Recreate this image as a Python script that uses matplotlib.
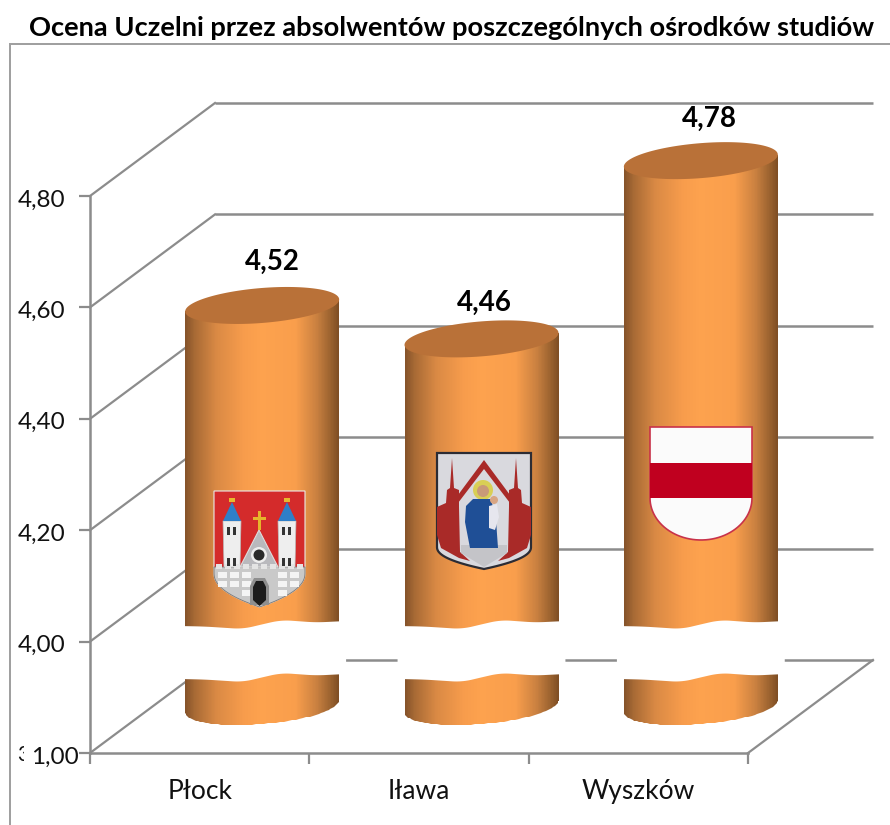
#!/usr/bin/env python3
import numpy as np
import matplotlib
matplotlib.use('Agg')
import matplotlib.pyplot as plt
from matplotlib.colors import LinearSegmentedColormap
from matplotlib.patches import Polygon, Circle, Rectangle
from matplotlib.transforms import Affine2D, Bbox, IdentityTransform

plt.rcParams['font.family'] = ['Lato', 'DejaVu Sans']

# data
cities = ['Płock', 'Iława', 'Wyszków']
scores = [4.52, 4.46, 4.78]
score_labels = ['4,52', '4,46', '4,78']
y_ticks = [1.00, 4.00, 4.20, 4.40, 4.60, 4.80]
y_tick_labels = ['1,00', '4,00', '4,20', '4,40', '4,60', '4,80']

W, H = 890, 825
GRID = '#8c8c8c'
DEPTH = (125, 93)       # px, back wall offset
HALF = (77, 17.5, 6)    # cylinder ellipse: half width, half height, tilt
LABEL_SHIFT = [(10, 44), (3, 36), (9, 42)]  # px, value label from cylinder top


# broken axis: the 1 -> 4 stretch takes the room of one 0.2 step
def forward(v):
    v = np.asarray(v, dtype=float)
    return np.where(v >= 4, v - 4, (v - 1) / 3 * 0.2 - 0.2)


def inverse(u):
    u = np.asarray(u, dtype=float)
    return np.where(u >= 0, u + 4, (u + 0.2) / 0.2 * 3 + 1)


def px(x, y):
    # picture pixel (y down) -> display
    return x, H - y


fig = plt.figure(figsize=(W / 100, H / 100), dpi=100)
ax = fig.add_axes([90 / W, (H - 753) / H, 658 / W, (753 - 196) / H])
ax.set_facecolor('none')
ax.set_xlim(-0.5, 2.5)
ax.set_yscale('function', functions=(forward, inverse))
ax.set_ylim(1.0, 4.8)
ax.set_yticks(y_ticks, y_tick_labels)
ax.set_xticks([-0.5, 0.5, 1.5, 2.5], [])
ax.minorticks_off()
ax.tick_params(axis='both', length=8, width=1.6, color=GRID)
ax.tick_params(axis='y', labelsize=17.5, pad=10, labelcolor='#111111')
for s in ['top', 'right']:
    ax.spines[s].set_visible(False)
for s in ['left', 'bottom']:
    ax.spines[s].set_color(GRID)
    ax.spines[s].set_linewidth(1.8)
for n, lab in enumerate(ax.get_yticklabels()):
    # the 1,00 label sits closer to the axis than the others
    lab.set_transform(lab.get_transform() + Affine2D().translate(14 if n == 0 else 0, -2))
for i, c in enumerate(cities):
    ax.text(i, -0.07, c, transform=ax.get_xaxis_transform(), ha='center', va='center', fontsize=19, color='#111111')

back = ax.transData + Affine2D().translate(*DEPTH)
mid = ax.transData + Affine2D().translate(DEPTH[0] / 2, DEPTH[1] / 2)

# walls and floor
for t in y_ticks:
    ax.plot([-0.5, 2.5], [t, t], transform=back, color=GRID, lw=1.8, clip_on=False, solid_capstyle='butt', zorder=1)
    x0, y0 = ax.transData.transform((-0.5, t))
    ax.plot([x0, x0 + DEPTH[0]], [y0, y0 + DEPTH[1]], transform=IdentityTransform(), color=GRID, lw=1.6, clip_on=False, zorder=1)
x0, y0 = ax.transData.transform((2.5, 1.0))
ax.plot([x0, x0 + DEPTH[0]], [y0, y0 + DEPTH[1]], transform=IdentityTransform(), color=GRID, lw=1.6, clip_on=False, zorder=1)

# cylinders
shade = LinearSegmentedColormap.from_list('cyl', [
    (0.00, '#86532a'), (0.06, '#a86a35'), (0.20, '#d98944'), (0.38, '#f79c4c'),
    (0.50, '#fda24e'), (0.72, '#f99e4c'), (0.86, '#c98040'), (0.95, '#9a622f'), (1.00, '#7f4e24')])
a, b, s = HALF
tt = np.linspace(0, 2 * np.pi, 121)


def ellipse(cx, cy, t):
    return np.column_stack([cx + a * np.cos(t), cy + b * np.sin(t) + s * np.cos(t)])


for i, v in enumerate(scores):
    cx, cy_top = mid.transform((i, v))
    _, cy_bot = mid.transform((i, 1.0))
    lower = ellipse(cx, cy_bot, np.linspace(np.pi, 2 * np.pi, 60))
    body = np.vstack([lower, [[cx + a, cy_top + s], [cx - a, cy_top - s]]])
    clip = Polygon(body, transform=IdentityTransform(), fc='none', ec='none')
    ax.add_patch(clip)
    clip.set_clip_on(False)
    xs = np.linspace(cx - a, cx + a, 155)
    ys = [cy_bot - 30, cy_top + 30]
    mesh = ax.pcolormesh(xs, ys, np.linspace(0, 1, 154)[None, :], cmap=shade, transform=IdentityTransform(), zorder=3, rasterized=True)
    mesh.set_clip_path(clip)
    mesh.set_clip_box(None)
    ax.add_patch(Polygon(ellipse(cx, cy_top, tt), transform=IdentityTransform(), fc='#b97138', ec='none', zorder=4, clip_on=False))
    dx, dy = LABEL_SHIFT[i]
    ax.text(cx + dx, cy_top + dy, score_labels[i], transform=IdentityTransform(), ha='center', va='center',
            fontsize=20, fontweight='bold', color='black', zorder=6)

    # white wavy break over the cylinder
    knots = np.array([-1.09, -0.75, -0.25, 0.02, 0.25, 0.7, 1.09])
    wave = np.array([1.5, 1.0, -1.5, 3.5, 7.5, 5.0, 6.5])
    u = np.linspace(-1.09, 1.09, 90)
    w = np.interp(u, knots, wave)
    w = np.convolve(np.pad(w, 5, mode='edge'), np.ones(11) / 11, mode='valid')
    top_edge = np.column_stack([cx + u * a, cy_bot + 79 + w])
    bot_edge = np.column_stack([cx + u * a, cy_bot + 26 + w])
    ax.add_patch(Polygon(np.vstack([top_edge, bot_edge[::-1]]), transform=IdentityTransform(), fc='white', ec='none', zorder=5, clip_on=False))


def art(points, zorder=7, **kw):
    pts = [px(x, y) for x, y in points]
    ax.add_patch(Polygon(pts, transform=IdentityTransform(), clip_on=False, zorder=zorder, **kw))


def dot(x, y, r, color, zorder=8):
    ax.add_patch(Circle(px(x, y), r, transform=IdentityTransform(), fc=color, ec='none', clip_on=False, zorder=zorder))


def shield(x0, x1, top, side, tip, n=24):
    xc = (x0 + x1) / 2
    t = np.linspace(0, 1, n)
    left = [(x0 + (xc - x0) * q ** 2.2, side + (tip - side) * q ** 1.0) for q in t]
    right = [(x1 - (x1 - xc) * q ** 2.2, side + (tip - side) * q ** 1.0) for q in t[::-1]]
    return [(x0, top)] + left + right + [(x1, top)]


# herb Płocka
sh = shield(214, 305, 491, 573, 607)
art(sh, fc='#d42b2b', ec='#e8e8e8', lw=0.8)
wall = [p for p in sh if p[1] >= 570]
art([(214, 567), (305, 567)] + sorted([p for p in wall if p[0] > 259.5], key=lambda p: p[1]) +
    sorted([p for p in wall if p[0] <= 259.5], key=lambda p: -p[1]), zorder=8, fc='#c9c9c9', ec='#777777', lw=0.6)
for tx in (232, 287):
    art([(tx - 9, 521), (tx + 9, 521), (tx + 8, 567), (tx - 8, 567)], zorder=9, fc='#eeeeee', ec='#bbbbbb', lw=0.5)
    art([(tx, 502), (tx - 9, 521), (tx + 9, 521)], zorder=10, fc='#2f7fc8', ec='none')
    art([(tx - 3, 498), (tx + 3, 498), (tx + 3, 502), (tx - 3, 502)], zorder=10, fc='#e8b82e', ec='none')
    for wy in (527, 558):
        for wx in (-5, 1):
            art([(tx + wx, wy), (tx + wx + 3, wy), (tx + wx + 3, wy + 8), (tx + wx, wy + 8)], zorder=10, fc='#333333', ec='none')
art([(259, 530), (240, 567), (278, 567)], zorder=9, fc='#b9b9bd', ec='#dddddd', lw=0.8)
dot(259, 555, 8, '#eeeeee', 10)
dot(259, 555, 5.5, '#2a2a2a', 11)
art([(257.5, 511), (260.5, 511), (260.5, 530), (257.5, 530)], zorder=10, fc='#e6b52c', ec='none')
art([(253, 517), (266, 517), (266, 520), (253, 520)], zorder=10, fc='#e6b52c', ec='none')
for bx in np.arange(216, 303, 9):
    art([(bx, 564), (bx + 6, 564), (bx + 6, 569), (bx, 569)], zorder=9, fc='#e4e4e4', ec='none')
for by in (572, 581, 590):
    for bx in np.arange(218, 302, 12):
        if 249 < bx < 268 or by > 585 and not 232 < bx < 288:
            continue
        art([(bx, by), (bx + 9, by), (bx + 9, by + 6), (bx, by + 6)], zorder=9, fc='#f4f4f4', ec='none')
art([(250, 605), (250, 586), (254, 578), (265, 578), (269, 586), (269, 605)], zorder=9, fc='#8f8f8f', ec='none')
art([(253, 600), (253, 587), (256, 581), (263, 581), (266, 587), (266, 600), (259.5, 606)], zorder=10, fc='#1c1c1c', ec='none')

# herb Iławy
sh = shield(437, 531, 453, 547, 569)
art(sh, fc='#d9d9de', ec='#2c2c34', lw=1.6)
red = '#a92a28'
for mx in (lambda x: x, lambda x: 968 - x):
    art([(mx(x), y) for x, y in [(437, 507), (446, 503), (447, 490), (450, 488), (452, 458), (454, 488), (459, 490), (459, 507),
                                 (460, 552), (470, 561), (459, 558), (441, 548), (437, 535)]],
        zorder=8, fc=red, ec='none')
art([(458, 495), (484, 460), (510, 495), (510, 503), (484, 469), (458, 503)], zorder=8, fc=red, ec='none')
art([(461, 545), (507, 545), (507, 553), (484, 567), (461, 553)], zorder=8, fc='#c4c4c8', ec='none')
dot(483, 490, 10, '#d9cf55', 9)
art([(473, 499), (491, 499), (496, 520), (498, 548), (470, 548), (465, 522), (466, 506)], zorder=10, fc='#1f4f96', ec='none')
dot(483, 491, 6, '#c99a78', 11)
art([(489, 506), (497, 504), (499, 517), (495, 530), (489, 528)], zorder=11, fc='#e6e6ee', ec='none')
dot(494, 500, 4, '#d8a583', 11)

# herb Wyszkowa
tw = np.linspace(0, np.pi, 50)
bottom = [(701 + 51 * np.cos(q), 498 + 42 * np.sin(q)) for q in tw]
art([(650, 427), (752, 427)] + bottom, fc='#fbfbfb', ec='#c8324a', lw=1.2)
art([(650, 463), (752, 463), (752, 498), (650, 498)], zorder=8, fc='#c0001f', ec='none')

# chart frame, the cut off label and title
fig.add_artist(Rectangle((9 / W, 0), 2 / W, (H - 44) / H, transform=fig.transFigure, fc='#a0a0a0', ec='none'))
fig.add_artist(Rectangle((9 / W, (H - 45) / H), (W - 9) / W, 2 / H, transform=fig.transFigure, fc='#a0a0a0', ec='none'))
cut = fig.text(17 / W, (H - 755) / H, '3', ha='left', va='center', fontsize=15, color='#111111')
cut.set_clip_box(Bbox([[0, 0], [24, H]]))
cut.set_clip_on(True)
fig.text(452 / W, (H - 28) / H, 'Ocena Uczelni przez absolwentów poszczególnych ośrodków studiów',
         ha='center', va='center', fontsize=19.6, fontweight='bold', color='black')

fig.savefig('out.png', dpi=100)
